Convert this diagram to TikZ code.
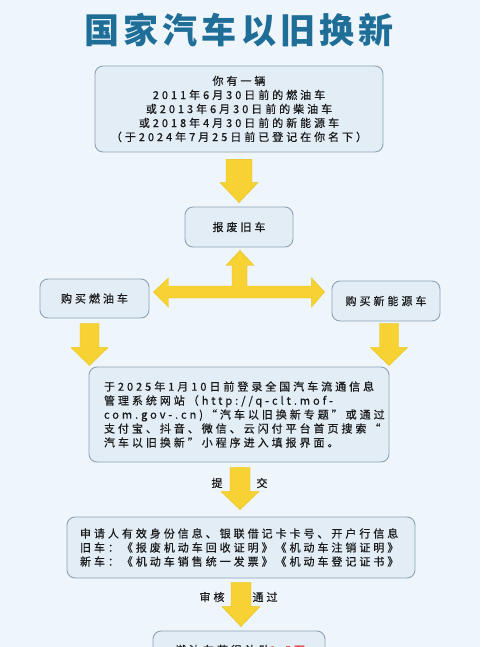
\documentclass[tikz,border=0pt]{standalone}
\usepackage{fontspec}
\usetikzlibrary{calc}
\newfontfamily\cjk[LetterSpace=27,FakeBold=0.6]{Noto Sans CJK SC}
\newfontfamily\cjktitle[LetterSpace=12]{Noto Sans CJK SC}
\definecolor{bg}{HTML}{EEF5FB}
\definecolor{boxfill}{HTML}{E2EDF6}
\definecolor{boxline}{HTML}{8CA3B6}
\definecolor{txt}{HTML}{1A1A1A}
\definecolor{titlec}{HTML}{1E6E98}
\definecolor{arrowy}{HTML}{F6D232}
\definecolor{arrowedge}{HTML}{E9C21E}
\definecolor{hot}{HTML}{E0201B}
\tikzset{
  box/.style={draw=boxline, fill=boxfill, line width=0.9pt, rounded corners=8pt,
    inner sep=0pt, font={\cjk\fontsize{11}{14}\selectfont}, text=txt},
  yarrow/.style={fill=arrowy, draw=arrowedge, line width=0.4pt},
  lbl/.style={font={\cjk\fontsize{11}{14}\selectfont}, text=txt, inner sep=0pt}
}
% vertical block arrow: start, tip, shaft half width, head half width, head length
\newcommand\darr[5]{\fill[yarrow] let \p1=(#1), \p2=(#2) in
  (\x1-#3pt,\y1) -- (\x1+#3pt,\y1) -- (\x1+#3pt,\y2+#5pt) -- (\x1+#4pt,\y2+#5pt)
  -- (\x1,\y2) -- (\x1-#4pt,\y2+#5pt) -- (\x1-#3pt,\y2+#5pt) -- cycle;}
\begin{document}
\begin{tikzpicture}[x=1pt,y=-1pt]
\useasboundingbox (0,0) rectangle (480,647);
\clip (0,0) rectangle (480,647);
\fill[bg] (0,0) rectangle (480,647);

\node[font={\cjktitle\bfseries\fontsize{35}{40}\selectfont}, text=titlec] (title) at (239,30) {国家汽车以旧换新};

\node[box, minimum width=288pt, minimum height=86pt, align=center] (b1) at (239,109)
  {你有一辆\\2011年6月30日前的燃油车\\或2013年6月30日前的柴油车\\或2018年4月30日前的新能源车\\（于2024年7月25日前已登记在你名下）};

\node[box, minimum width=108pt, minimum height=40pt] (b2) at (239,227) {报废旧车};
\node[box, minimum width=109pt, minimum height=39pt] (lb) at (94.5,298.5) {购买燃油车};
\node[box, minimum width=108pt, minimum height=40pt] (rb) at (386,301) {购买新能源车};

\node[box, minimum width=300pt, minimum height=95pt, text width=270pt, inner xsep=15pt, align=left] (b3) at (239,414.5)
  {\mbox{于2025年1月10日前登录全国汽车流通信息}\\\mbox{管理系统网站（http://q-clt.mof-}\\\mbox{com.gov-.cn)“汽车以旧换新专题”或通过}\\\mbox{支付宝、抖音、微信、云闪付平台首页搜索“}\\\mbox{汽车以旧换新”小程序进入填报界面。}};

\node[box, minimum width=348pt, minimum height=61pt, text width=322pt, inner xsep=13pt, align=left] (b4) at (241,547.5)
  {\mbox{申请人有效身份信息、银联借记卡卡号、开户行信息}\\\mbox{旧车：《报废机动车回收证明》《机动车注销证明》}\\\mbox{新车：《机动车销售统一发票》《机动车登记证书》}};

\node[box, minimum width=172pt, minimum height=60pt] (b5) at (239,661) {};
\node[lbl] (t5) at (240,650) {燃油车获得补助\textcolor{hot}{1.5万}};

% arrows
\coordinate (a1s) at ($(b1.south)+(0,7)$);
\coordinate (a1t) at ($(b2.north)+(0,-4)$);
\darr{a1s}{a1t}{13}{19}{20}

\coordinate (als) at ($(lb.south)+(-5,5)$);
\coordinate (alt) at ($(b3.north)+(-149.5,-1)$);
\darr{als}{alt}{9.5}{18.5}{18}
\coordinate (ars) at ($(rb.south)+(3,2)$);
\coordinate (art) at ($(b3.north)+(150,-1)$);
\darr{ars}{art}{9.5}{18.5}{18}

\coordinate (a3s) at ($(b3.south)+(1,5)$);
\coordinate (a3t) at ($(b4.north)+(-1,-7)$);
\darr{a3s}{a3t}{10}{19}{18}
\coordinate (a4s) at ($(b4.south)+(0,4)$);
\coordinate (a4t) at ($(b5.north)+(1,-4)$);
\darr{a4s}{a4t}{10}{19}{20}

% double horizontal arrow with upward branch
\coordinate (hl) at ($(lb.east)+(4,-6.5)$);
\coordinate (hr) at ($(rb.west)+(-7,-9)$);
\coordinate (hu) at ($(b2.south)+(1,3)$);
\fill[yarrow] let \p1=(hl), \p2=(hr), \p3=(hu) in
  (\x1,\y1) -- (\x1+15pt,\y1+14pt) -- (\x1+15pt,\y1+6pt) -- (\x3-8pt,\y1+6pt)
  -- (\x3-8pt,\y3-15pt) -- (\x3-14pt,\y3-15pt) -- (\x3,\y3) -- (\x3+14pt,\y3-15pt)
  -- (\x3+7pt,\y3-15pt) -- (\x3+7pt,\y1+6pt) -- (\x2-13pt,\y1+6pt) -- (\x2-13pt,\y1+14pt)
  -- (\x2,\y1) -- (\x2-13pt,\y1-15pt) -- (\x2-13pt,\y1-6pt) -- (\x1+15pt,\y1-6pt)
  -- (\x1+15pt,\y1-15pt) -- cycle;

\node[lbl] (l1) at (217,483) {提};
\node[lbl] (l2) at (262,483) {交};
\node[lbl] (l3) at (212,597) {审核};
\node[lbl] (l4) at (265,597) {通过};
\end{tikzpicture}
\end{document}
